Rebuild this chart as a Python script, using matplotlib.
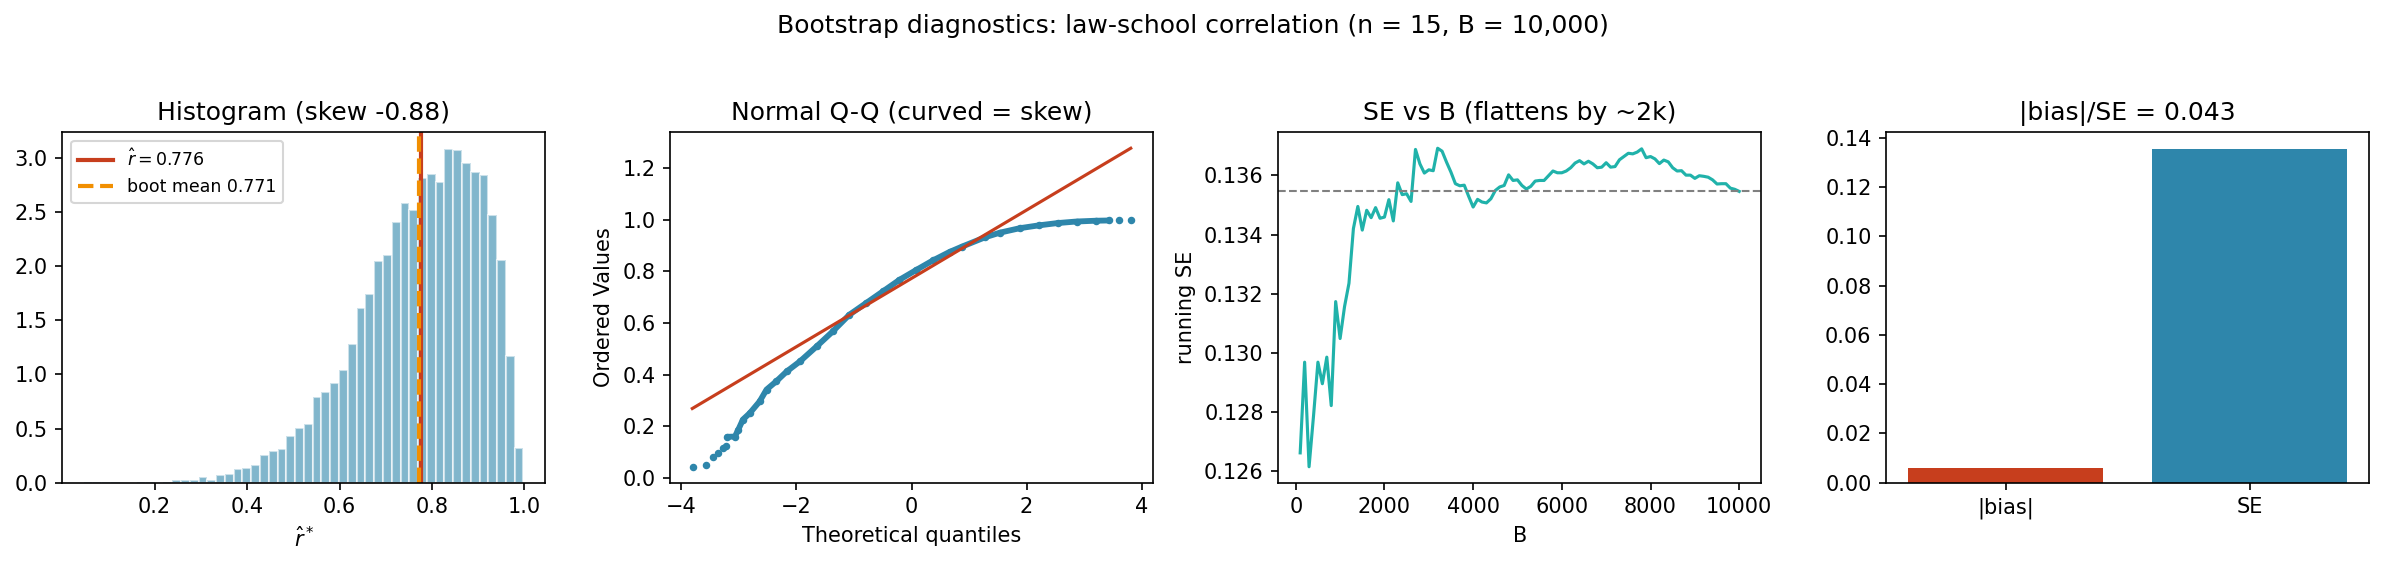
import numpy as np
import matplotlib
matplotlib.use("Agg")
import matplotlib.pyplot as plt

# ---------------- data ----------------
suptitle = "Bootstrap diagnostics: law-school correlation (n = 15, B = 10,000)"

# Histogram of bootstrap correlations (density per bin)
hist_lo, hist_hi, hist_nbins = 0.048, 0.998, 50
hist_density = [0.0053, 0.0053, 0.0053, 0.0053, 0.0, 0.0, 0.0053, 0.0053, 0.0, 0.0053,
                0.026, 0.026, 0.026, 0.052, 0.026, 0.068, 0.080, 0.126, 0.136, 0.166,
                0.256, 0.293, 0.311, 0.431, 0.508, 0.542, 0.79, 0.84, 0.92, 1.04,
                1.28, 1.61, 1.74, 2.05, 2.10, 2.41, 2.58, 2.52, 2.81, 2.85,
                2.78, 3.08, 3.07, 2.95, 2.87, 2.84, 2.47, 2.06, 1.17, 0.32]
r_hat = 0.776
boot_mean = 0.771
skew = -0.88

# Normal Q-Q plot
qq_tail_q = [-3.79, -3.57, -3.45, -3.36, -3.28, -3.23, 3.60, 3.82]
qq_tail_v = [0.043, 0.049, 0.081, 0.097, 0.116, 0.122, 0.997, 0.998]
qq_body_q = [-3.20, -3.07, -3.01, -2.93, -2.81, -2.64, -2.52, -2.35, -2.17, -1.94,
             -1.65, -1.37, -1.08, -0.79, -0.50, -0.21, 0.08, 0.37, 0.66, 0.88,
             1.28, 1.54, 1.88, 2.21, 2.54, 2.87, 3.20, 3.44]
qq_body_v = [0.159, 0.160, 0.187, 0.226, 0.251, 0.296, 0.342, 0.374, 0.412, 0.451,
             0.509, 0.567, 0.632, 0.677, 0.722, 0.767, 0.805, 0.842, 0.875, 0.896,
             0.932, 0.950, 0.967, 0.978, 0.987, 0.993, 0.996, 0.997]
qq_fit_slope = 0.1323
qq_fit_intercept = 0.7727
qq_q_range = [-3.81, 3.81]

# Running SE vs B
se_B = list(range(100, 10001, 100))
se_running = [0.12661, 0.12968, 0.12614, 0.12785, 0.12968, 0.12895, 0.12985, 0.12821, 0.13173, 0.13048,
              0.13156, 0.13235, 0.13420, 0.13495, 0.13415, 0.13482, 0.13457, 0.13491, 0.13455, 0.13459,
              0.13518, 0.13446, 0.13575, 0.13535, 0.13538, 0.13512, 0.13688, 0.13639, 0.13608, 0.13619,
              0.13616, 0.13692, 0.13682, 0.13645, 0.13611, 0.13572, 0.13565, 0.13567, 0.13529, 0.13493,
              0.13519, 0.13510, 0.13507, 0.13521, 0.13549, 0.13561, 0.13566, 0.13602, 0.13583, 0.13585,
              0.13566, 0.13554, 0.13563, 0.13581, 0.13583, 0.13583, 0.13599, 0.13615, 0.13609, 0.13609,
              0.13615, 0.13626, 0.13642, 0.13650, 0.13639, 0.13648, 0.13639, 0.13626, 0.13628, 0.13643,
              0.13628, 0.13630, 0.13653, 0.13664, 0.13675, 0.13673, 0.13679, 0.13690, 0.13660, 0.13664,
              0.13656, 0.13640, 0.13652, 0.13646, 0.13626, 0.13615, 0.13616, 0.13601, 0.13601, 0.13590,
              0.13599, 0.13597, 0.13594, 0.13585, 0.13571, 0.13572, 0.13572, 0.13557, 0.13553, 0.13546]
se_final = 0.13546

# Bias vs SE
bar_labels = ["|bias|", "SE"]
bar_values = [0.0058, 0.13546]
ratio = 0.043

# ---------------- style ----------------
C_BLUE = "#2E86AB"
C_RED = "#C73E1D"
C_ORANGE = "#F18F01"
C_TEAL = "#20B2AA"

fig, axes = plt.subplots(1, 4, figsize=(15.9, 3.7734), dpi=150)
fig.subplots_adjust(left=0.0262, right=0.9933, bottom=0.1472, top=0.7662, wspace=0.2588)
fig.suptitle(suptitle, fontsize=12, y=0.975, va="top")

# Panel 1: histogram
ax = axes[0]
edges = np.linspace(hist_lo, hist_hi, hist_nbins + 1)
ax.hist(edges[:-1], bins=edges, weights=hist_density, color=C_BLUE, alpha=0.6,
        edgecolor="white")
ax.axvline(r_hat, color=C_RED, lw=2, label=r"$\hat{r} = $" + f"{r_hat:.3f}")
ax.axvline(boot_mean, color=C_ORANGE, lw=2, ls="--", label=f"boot mean {boot_mean:.3f}")
ax.set_title(f"Histogram (skew {skew:.2f})")
ax.set_xlabel(r"$\hat{r}^*$")
ax.legend(loc="upper left", fontsize="small")

# Panel 2: Q-Q
ax = axes[1]
ax.plot(qq_body_q, qq_body_v, "o-", color=C_BLUE, ms=2.6, lw=2.8,
        solid_capstyle="round", solid_joinstyle="round")
ax.plot(qq_tail_q, qq_tail_v, "o", color=C_BLUE, ms=2.6, lw=0)
fit_x = np.array(qq_q_range)
ax.plot(fit_x, qq_fit_intercept + qq_fit_slope * fit_x, color=C_RED, lw=1.5)
ax.set_title("Normal Q-Q (curved = skew)")
ax.set_xlabel("Theoretical quantiles")
ax.set_ylabel("Ordered Values")

# Panel 3: running SE
ax = axes[2]
ax.plot(se_B, se_running, color=C_TEAL, lw=1.5)
ax.axhline(se_final, color="gray", ls="--", lw=1)
ax.set_title("SE vs B (flattens by ~2k)")
ax.set_xlabel("B")
ax.set_ylabel("running SE")

# Panel 4: bias vs SE
ax = axes[3]
ax.bar(bar_labels, bar_values, color=[C_RED, C_BLUE])
ax.set_title(f"|bias|/SE = {ratio:.3f}")

fig.savefig("out.png", dpi=150)
